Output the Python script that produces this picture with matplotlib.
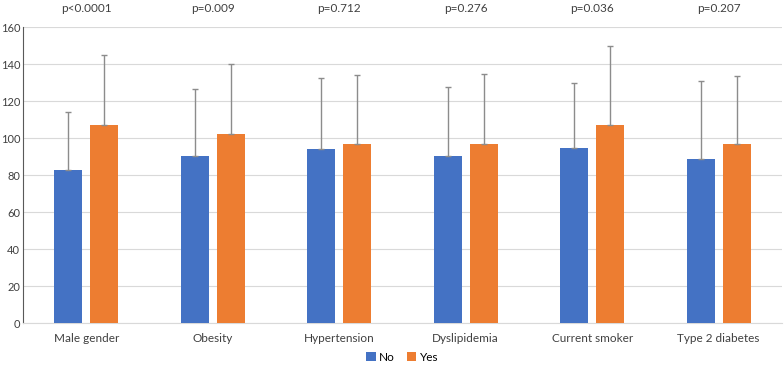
import matplotlib.pyplot as plt
import numpy as np

plt.rcParams['font.family'] = ['Lato', 'DejaVu Sans']

categories = ["Male gender", "Obesity", "Hypertension", "Dyslipidemia",
              "Current smoker", "Type 2 diabetes"]
no_mean = [82.5, 90.5, 94, 90.5, 94.5, 88.5]
yes_mean = [107, 102, 96.5, 97, 107, 97]
no_upper = [114, 126.5, 132.5, 127.5, 130, 131]
yes_upper = [145, 140, 134, 134.5, 149.5, 133.5]
p_values = ["p<0.0001", "p=0.009", "p=0.712", "p=0.276", "p=0.036", "p=0.207"]

no_err = np.array(no_upper) - np.array(no_mean)
yes_err = np.array(yes_upper) - np.array(yes_mean)

fig = plt.figure(figsize=(7.84, 3.65), dpi=100)
ax = fig.add_axes([0.0293, 0.115, 0.968, 0.811])

x = np.arange(len(categories))
w = 0.22
off = 0.142
err_kw = dict(ecolor="#8c8c8c", elinewidth=1.0, capsize=2.5, capthick=1.0)
ax.bar(x - off, no_mean, w, color="#4472C4", label="No",
       yerr=[np.zeros(len(x)), no_err], error_kw=err_kw, zorder=3)
ax.bar(x + off, yes_mean, w, color="#ED7D31", label="Yes",
       yerr=[np.zeros(len(x)), yes_err], error_kw=err_kw, zorder=3)

for xi, p in zip(x, p_values):
    ax.text(xi, 170, p, ha="center", va="center", fontsize=8.5,
            color="#404040", clip_on=False)

ax.set_xlim(-0.5, len(categories) - 0.5)
ax.set_ylim(0, 160)
ax.set_yticks(range(0, 161, 20))
ax.set_xticks(x)
ax.set_xticklabels(categories)
ax.tick_params(axis="both", length=0, labelsize=8.5, labelcolor="#404040")
ax.tick_params(axis="y", pad=2, labelsize=8)
ax.tick_params(axis="x", pad=7)
ax.grid(axis="y", color="#d9d9d9", linewidth=0.8, zorder=0)
ax.set_axisbelow(True)
for s in ["top", "right"]:
    ax.spines[s].set_visible(False)
ax.spines["left"].set_color("#595959")
ax.spines["bottom"].set_color("#d9d9d9")

ax.legend(loc="lower center", bbox_to_anchor=(0.5, -0.15), ncol=2,
          frameon=False, fontsize=8.5, handlelength=0.8, handleheight=0.8,
          handletextpad=0.3, columnspacing=1.0, borderaxespad=0)

fig.savefig("out.png", dpi=100)
